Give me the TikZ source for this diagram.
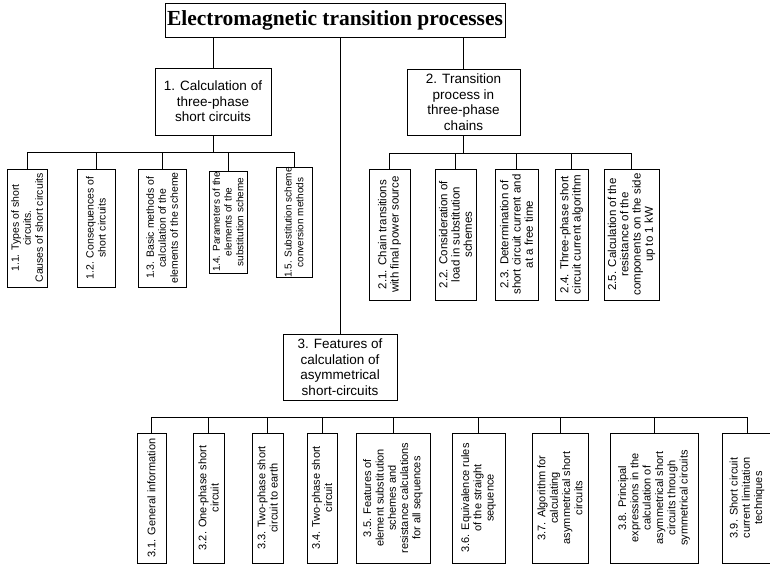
\documentclass[tikz,border=0pt]{standalone}
\usepackage{fontspec}
\setmainfont{Liberation Sans}
\newfontfamily\titlefont{Liberation Serif}
\begin{document}
\begin{tikzpicture}[x=1pt,y=-1pt,
  line/.style={draw=black,line width=0.75pt},
  titlebox/.style={line,inner sep=0pt,font=\titlefont\bfseries\fontsize{21.5}{23}\selectfont},
  mainbox/.style={line,inner sep=0pt,align=center,font=\fontsize{13.5}{15.6}\selectfont},
  vbox/.style={line,rotate=90,inner sep=0pt,align=center,font=\fontsize{10.5}{12}\selectfont},
  vboxs/.style={vbox,font=\fontsize{10}{11.8}\selectfont},
  vboxb/.style={vbox,font=\fontsize{11.5}{12.3}\selectfont},
  vboxc/.style={vbox,font=\fontsize{11}{12.3}\selectfont}
]
\clip (0,0) rectangle (770,564);
\fill[white] (0,0) rectangle (770,564);

% title and level 1
\node[titlebox,minimum width=340,minimum height=34] (title) at (335,20) {Electromagnetic transition processes};
\node[mainbox,minimum width=116,minimum height=67] (b1) at (213,101.5) {1. Calculation of\\three-phase\\short circuits};
\node[mainbox,minimum width=113,minimum height=66] (b2) at (463.5,102) {2. Transition\\process in\\three-phase\\chains};
\node[mainbox,minimum width=114,minimum height=66] (b3) at (340,367) {3. Features of\\calculation of\\asymmetrical\\short-circuits};

% branch 1
\node[vbox,minimum width=118,minimum height=40] (n11) at (27,228) {1.1. Types of short\\circuits.\\Causes of short circuits};
\node[vbox,minimum width=118,minimum height=38] (n12) at (96,228) {1.2. Consequences of\\short circuits};
\node[vbox,minimum width=118,minimum height=48] (n13) at (162,228) {1.3. Basic methods of\\calculation of the\\elements of the scheme};
\node[vboxs,minimum width=102,minimum height=38] (n14) at (228,222) {1.4. Parameters of the\\elements of the\\substitution scheme};
\node[vboxs,minimum width=101,minimum height=36] (n15) at (294,222.5) {1.5. Substitution scheme\\conversion methods};

% branch 2
\node[vboxb,minimum width=131,minimum height=41] (n21) at (389.5,234.5) {2.1. Chain transitions\\with final power source};
\node[vboxb,minimum width=131,minimum height=41] (n22) at (455.5,234.5) {2.2. Consideration of\\load in substitution\\schemes};
\node[vboxb,minimum width=131,minimum height=43] (n23) at (516.5,234.5) {2.3. Determination of\\short circuit current and\\at a free time};
\node[vboxb,minimum width=131,minimum height=33] (n24) at (571.5,234.5) {2.4. Three-phase short\\circuit current algorithm};
\node[vboxb,minimum width=131,minimum height=55] (n25) at (631.5,234.5) {2.5. Calculation of the\\resistance of the\\components on the side\\up to 1 kW};

% branch 3
\node[vboxc,minimum width=130,minimum height=29] (n31) at (151.5,498) {3.1. General information};
\node[vboxc,minimum width=130,minimum height=31] (n32) at (208.5,498) {3.2. One-phase short\\circuit};
\node[vboxc,minimum width=130,minimum height=31] (n33) at (267.5,498) {3.3. Two-phase short\\circuit to earth};
\node[vboxc,minimum width=130,minimum height=30] (n34) at (322,498) {3.4. Two-phase short\\circuit};
\node[vboxc,minimum width=130,minimum height=74] (n35) at (393,498) {3.5. Features of\\element substitution\\schemes and\\resistance calculations\\for all sequences};
\node[vboxc,minimum width=130,minimum height=53] (n36) at (478.5,498) {3.6. Equivalence rules\\of the straight\\sequence};
\node[vboxc,minimum width=130,minimum height=56] (n37) at (560,498) {3.7. Algorithm for\\calculating\\asymmetrical short\\circuits};
\node[vboxc,minimum width=130,minimum height=88] (n38) at (654,498) {3.8. Principal\\expressions in the\\calculation of\\asymmetrical short\\circuits through\\symmetrical circuits};
\node[vboxc,minimum width=130,minimum height=50] (n39) at (747,498) {3.9. Short circuit\\current limitation\\techniques};

% connectors
\coordinate (bus1) at (0,152);
\coordinate (bus2) at (0,153);
\coordinate (bus3) at (0,417);
\draw[line] (title.south -| b1.north) -- (b1.north);
\draw[line] (title.south -| b2.north) -- (b2.north);
\draw[line] (title.south -| b3.north) -- (b3.north);

\draw[line] (b1.south) -- (b1.south |- bus1);
\draw[line] (n11.east) -- (n11.east |- bus1) -- (n15.east |- bus1) -- (n15.east);
\foreach \n in {n12,n13,n14} \draw[line] (\n.east) -- (\n.east |- bus1);

\draw[line] (b2.south) -- (b2.south |- bus2);
\draw[line] (n21.east) -- (n21.east |- bus2) -- (n25.east |- bus2) -- (n25.east);
\foreach \n in {n22,n23,n24} \draw[line] (\n.east) -- (\n.east |- bus2);

\draw[line] (n31.east) -- (n31.east |- bus3) -- (n39.east |- bus3) -- (n39.east);
\foreach \n in {n32,n33,n34,n35,n36,n37,n38} \draw[line] (\n.east) -- (\n.east |- bus3);
\end{tikzpicture}
\end{document}
